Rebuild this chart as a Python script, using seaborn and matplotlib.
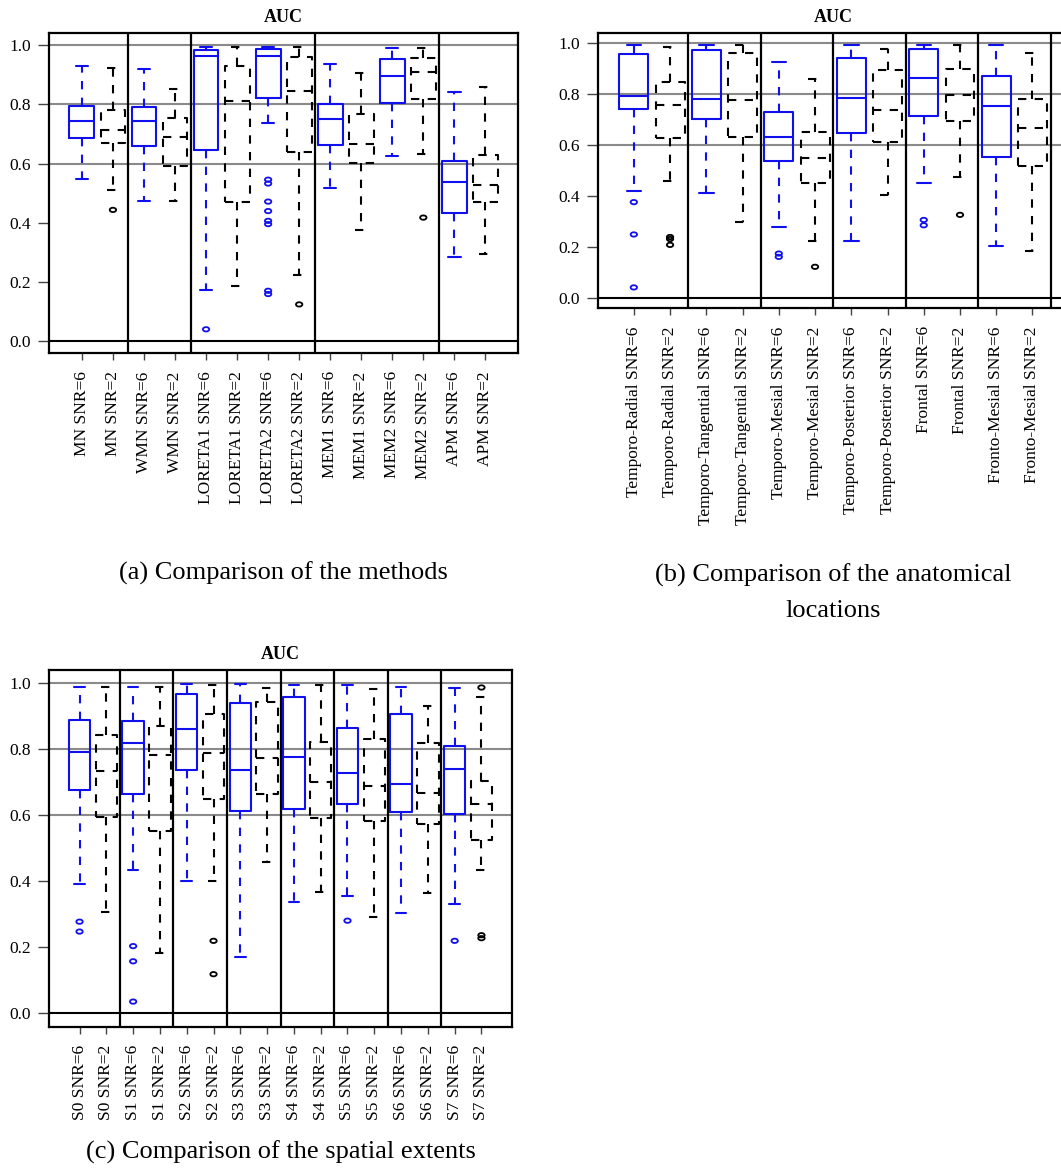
import numpy as np
import pandas as pd
import matplotlib
matplotlib.use("Agg")
import matplotlib.pyplot as plt
import seaborn as sns
from matplotlib.path import Path
from matplotlib.transforms import Affine2D

sns.set_theme(style="white")
plt.rcParams["font.family"] = ["Liberation Serif", "DejaVu Serif"]
plt.rcParams["text.color"] = "black"
plt.rcParams["xtick.color"] = "black"
plt.rcParams["ytick.color"] = "black"
plt.rcParams["axes.labelcolor"] = "black"

snr_levels = ["SNR=6", "SNR=2"]

# ---------------- (a) reconstruction methods ----------------
methods = ["MN", "WMN", "LORETA1", "LORETA2", "MEM1", "MEM2", "APM"]
method_groups = [2, 2, 4, 4, 2]
a_hi = [0.929, 0.923, 0.921, 0.852, 0.994, 0.993, 0.993, 0.994, 0.937, 0.906, 0.989, 0.991, 0.843, 0.858]
a_q3 = [0.796, 0.782, 0.790, 0.754, 0.985, 0.929, 0.986, 0.959, 0.803, 0.766, 0.954, 0.957, 0.608, 0.629]
a_med = [0.745, 0.712, 0.743, 0.691, 0.963, 0.813, 0.965, 0.844, 0.751, 0.667, 0.897, 0.908, 0.539, 0.529]
a_q1 = [0.687, 0.670, 0.658, 0.593, 0.647, 0.471, 0.822, 0.639, 0.664, 0.603, 0.805, 0.818, 0.432, 0.471]
a_lo = [0.548, 0.511, 0.475, 0.474, 0.174, 0.187, 0.736, 0.224, 0.517, 0.377, 0.625, 0.632, 0.285, 0.295]
a_out = {1: [0.444], 4: [0.041],
         6: [0.546, 0.533, 0.472, 0.440, 0.407, 0.396, 0.171, 0.160],
         7: [0.125], 11: [0.418]}

# ---------------- (b) anatomical locations ----------------
locations = ["Temporo-Radial", "Temporo-Tangential", "Temporo-Mesial",
             "Temporo-Posterior", "Frontal", "Fronto-Mesial"]
location_groups = [2, 2, 2, 2, 2, 2]
b_hi = [0.996, 0.987, 0.996, 0.993, 0.927, 0.861, 0.993, 0.980, 0.996, 0.996, 0.995, 0.962]
b_q3 = [0.958, 0.848, 0.974, 0.961, 0.731, 0.654, 0.944, 0.895, 0.978, 0.901, 0.874, 0.783]
b_med = [0.795, 0.757, 0.782, 0.778, 0.631, 0.552, 0.786, 0.739, 0.865, 0.797, 0.756, 0.668]
b_q1 = [0.741, 0.627, 0.703, 0.634, 0.540, 0.454, 0.650, 0.612, 0.714, 0.694, 0.554, 0.519]
b_lo = [0.421, 0.461, 0.412, 0.297, 0.281, 0.225, 0.225, 0.403, 0.454, 0.475, 0.204, 0.184]
b_out = {0: [0.377, 0.250, 0.042], 1: [0.240, 0.232, 0.209],
         4: [0.175, 0.162], 5: [0.123], 8: [0.307, 0.286], 9: [0.327]}

# ---------------- (c) spatial extents ----------------
extents = ["S0", "S1", "S2", "S3", "S4", "S5", "S6", "S7"]
extent_groups = [2] * 8
c_hi = [0.990, 0.988, 0.990, 0.990, 0.998, 0.995, 0.998, 0.986,
        0.995, 0.995, 0.996, 0.981, 0.988, 0.931, 0.984, 0.958]
c_q3 = [0.889, 0.843, 0.887, 0.870, 0.966, 0.907, 0.940, 0.943,
        0.958, 0.821, 0.864, 0.830, 0.908, 0.818, 0.810, 0.704]
c_med = [0.792, 0.735, 0.819, 0.784, 0.861, 0.788, 0.737, 0.774,
         0.778, 0.702, 0.727, 0.690, 0.695, 0.668, 0.740, 0.634]
c_q1 = [0.677, 0.594, 0.665, 0.554, 0.736, 0.649, 0.614, 0.665,
        0.619, 0.591, 0.633, 0.584, 0.609, 0.574, 0.605, 0.525]
c_lo = [0.392, 0.308, 0.434, 0.182, 0.400, 0.400, 0.170, 0.459,
        0.339, 0.369, 0.356, 0.293, 0.303, 0.364, 0.330, 0.433]
c_out = {0: [0.278, 0.248], 2: [0.204, 0.158, 0.036], 5: [0.220, 0.119],
         10: [0.281], 14: [0.220], 15: [0.987, 0.237, 0.228]}

BLUE = "#1010ee"
DASH = (0, (4, 4))
LW = 1.5
ELLIPSE = Affine2D().scale(1.0, 0.68).transform_path(Path.unit_circle())


def make_labels(names):
    return [f"{n} {s}" for n in names for s in snr_levels]


def draw_panel(ax, labels, lo, q1, med, q3, hi, outliers, groups, closing_line=False):
    n = len(labels)
    rows = []
    for i, lab in enumerate(labels):
        for v in (lo[i], q1[i], med[i], q3[i], hi[i]):
            rows.append({"label": lab, "snr": snr_levels[i % 2], "value": v})
    df = pd.DataFrame(rows)
    out_rows = [{"label": labels[i], "snr": snr_levels[i % 2], "value": v}
                for i, vals in outliers.items() for v in vals]
    odf = pd.DataFrame(out_rows)

    # reference lines behind the boxes
    for y in (0.6, 0.8, 1.0):
        ax.axhline(y, color="#8a8a8a", lw=1.5, zorder=0.5)
    ax.axhline(0.0, color="black", lw=1.5, zorder=0.5)

    common = dict(x="label", y="value", order=labels, width=0.8, whis=(0, 100),
                  showfliers=False, fill=False, ax=ax, linewidth=LW)
    styles = {
        "SNR=6": (BLUE, "-", DASH, "-", "-"),
        "SNR=2": ("black", DASH, DASH, DASH, DASH),
    }
    for snr in snr_levels:
        col, box_ls, whisk_ls, cap_ls, med_ls = styles[snr]
        sns.boxplot(data=df[df.snr == snr], color=col,
                    boxprops=dict(color=col, linestyle=box_ls, linewidth=LW),
                    whiskerprops=dict(color=col, linestyle=whisk_ls, linewidth=LW),
                    capprops=dict(color=col, linestyle=cap_ls, linewidth=LW),
                    medianprops=dict(color=col, linestyle=med_ls, linewidth=LW),
                    **common)
        sub = odf[odf.snr == snr]
        if len(sub):
            sns.stripplot(data=sub, x="label", y="value", order=labels, jitter=False,
                          marker=ELLIPSE, size=4.6, facecolor="none", edgecolor=col,
                          linewidth=1.3, ax=ax, zorder=3)

    # group separators
    bounds = list(np.cumsum(groups)[:-1] - 0.5)
    if closing_line:
        bounds.append(n - 0.5)
    for b in bounds:
        ax.axvline(b, color="black", lw=1.6, zorder=2)

    pad = 0.5 + 0.04 * n
    ax.set_xlim(-pad, n - 1 + pad)
    ax.set_ylim(-0.04, 1.04)
    ax.set_xticks(range(n))
    ax.set_xticklabels(labels, rotation=90, fontsize=12.5)
    ax.set_yticks([0.0, 0.2, 0.4, 0.6, 0.8, 1.0])
    ax.set_yticklabels(["0.0", "0.2", "0.4", "0.6", "0.8", "1.0"], fontsize=12.5)
    ax.tick_params(axis="y", left=True, direction="out", length=8, width=1,
                   pad=5, color="#444444", labelcolor="black")
    ax.tick_params(axis="x", bottom=True, direction="out", length=5, width=1,
                   pad=8, color="#444444", labelcolor="black")
    ax.set_xlabel("")
    ax.set_ylabel("")
    for sp in ax.spines.values():
        sp.set_visible(True)
        sp.set_color("black")
        sp.set_linewidth(1.6)
    ax.set_title("AUC", fontweight="bold", fontsize=13, pad=8, color="black")


W, H = 1061, 1171
fig = plt.figure(figsize=(W / 100, H / 100), dpi=100)


def px_axes(left, top, right, bottom):
    return fig.add_axes([left / W, 1 - bottom / H, (right - left) / W, (bottom - top) / H])


ax_a = px_axes(49, 33.3, 518.3, 353.3)
ax_b = px_axes(598.3, 33.3, 1068, 308.3)
ax_c = px_axes(49, 670, 512, 1026.7)

draw_panel(ax_a, make_labels(methods), a_lo, a_q1, a_med, a_q3, a_hi, a_out, method_groups)
draw_panel(ax_b, make_labels(locations), b_lo, b_q1, b_med, b_q3, b_hi, b_out, location_groups,
           closing_line=True)
draw_panel(ax_c, make_labels(extents), c_lo, c_q1, c_med, c_q3, c_hi, c_out, extent_groups)

cap_kw = dict(ha="center", va="center", fontsize=19, color="black")
fig.text(283.5 / W, 1 - 573 / H, "(a) Comparison of the methods", **cap_kw)
fig.text(833 / W, 1 - 575 / H, "(b) Comparison of the anatomical", **cap_kw)
fig.text(833 / W, 1 - 611 / H, "locations", **cap_kw)
fig.text(280.5 / W, 1 - 1152 / H, "(c) Comparison of the spatial extents", **cap_kw)

fig.savefig("out.png", dpi=100)
